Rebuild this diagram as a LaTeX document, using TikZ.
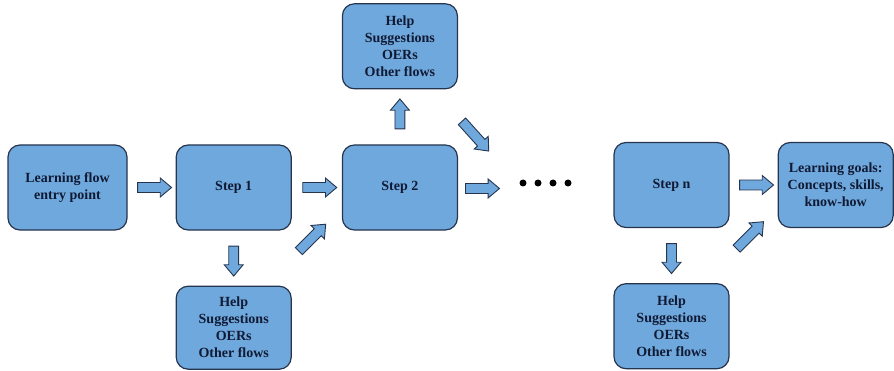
\documentclass[tikz,border=0pt]{standalone}
\usepackage{fontspec}
\setmainfont{Liberation Serif}
\usepackage{tikz}
\usetikzlibrary{arrows,shapes,positioning,calc}
\usepackage{xcolor}
\definecolor{flowblue}{RGB}{111,168,220}
\definecolor{flowline}{RGB}{38,52,78}
\definecolor{flowtext}{RGB}{16,26,52}
\tikzstyle{stepbox} = [rectangle, rounded corners=12pt, minimum width=115pt, minimum height=85pt, text centered, align=center, draw=flowline, fill=flowblue, line width=1.2pt, text=flowtext, font=\bfseries\fontsize{14}{17}\selectfont]
\tikzstyle{blockarrow} = [single arrow, draw=flowline, fill=flowblue, line width=0.9pt, minimum height=34pt, minimum width=18pt, inner sep=4.5pt, single arrow head extend=4.5pt, single arrow tip angle=80]

\begin{document}
\begin{tikzpicture}[x=1pt, y=1pt]
\useasboundingbox (0,0) rectangle (894,370);
% Main flow
\node (entry) [stepbox, minimum width=119pt] at (67.5,182.5) {Learning flow\\entry point};
\node (step1) [stepbox, right=48pt of entry] {Step 1};
\node (step2) [stepbox, right=50pt of step1] {Step 2};
\node (stepn) [stepbox] at (671.5,185) {Step n};
\node (goals) [stepbox, right=48pt of stepn] {Learning goals:\\Concepts, skills,\\know-how};
\coordinate (dots) at (545.5,187);
\foreach \i in {0,...,3}
  \fill[black] ($(dots)+(-22.5+15*\i,0)$) circle (3.5pt);

% Help branches
\node (help1) [stepbox, below=55pt of step1, minimum height=83pt] {Help\\Suggestions\\OERs\\Other flows};
\node (help2) [stepbox, above=55pt of step2] {Help\\Suggestions\\OERs\\Other flows};
\node (help3) [stepbox, below=55pt of stepn] {Help\\Suggestions\\OERs\\Other flows};

% Block arrows
\node (a1) [blockarrow] at ($(entry.east)!0.5!(step1.west)$) {};
\node (a2) [blockarrow] at ($(step1.east)!0.5!(step2.west)$) {};
\node (a3) [blockarrow, right=7pt of step2, yshift=-1pt] {};
\node (a4) [blockarrow] at ($(stepn.east)!0.5!(goals.west)$) {};
\node (d1) [blockarrow, rotate=-90, minimum height=30pt] at ($(step1.south)!0.5!(help1.north)$) {};
\node (u1) [blockarrow, rotate=45, minimum height=38pt, xshift=26pt] at ($(step1.south east)!0.5!(help1.north east)$) {};
\node (u2) [blockarrow, rotate=90, minimum height=30pt] at ($(step2.north)!0.5!(help2.south)$) {};
\node (d2) [blockarrow, rotate=-48, minimum height=40pt, xshift=23pt] at ($(help2.south east)!0.5!(step2.north east)$) {};
\node (d3) [blockarrow, rotate=-90, minimum height=30pt] at ($(stepn.south)!0.5!(help3.north)$) {};
\node (u3) [blockarrow, rotate=45, minimum height=38pt, xshift=26pt] at ($(stepn.south east)!0.5!(help3.north east)$) {};
\end{tikzpicture}
\end{document}
